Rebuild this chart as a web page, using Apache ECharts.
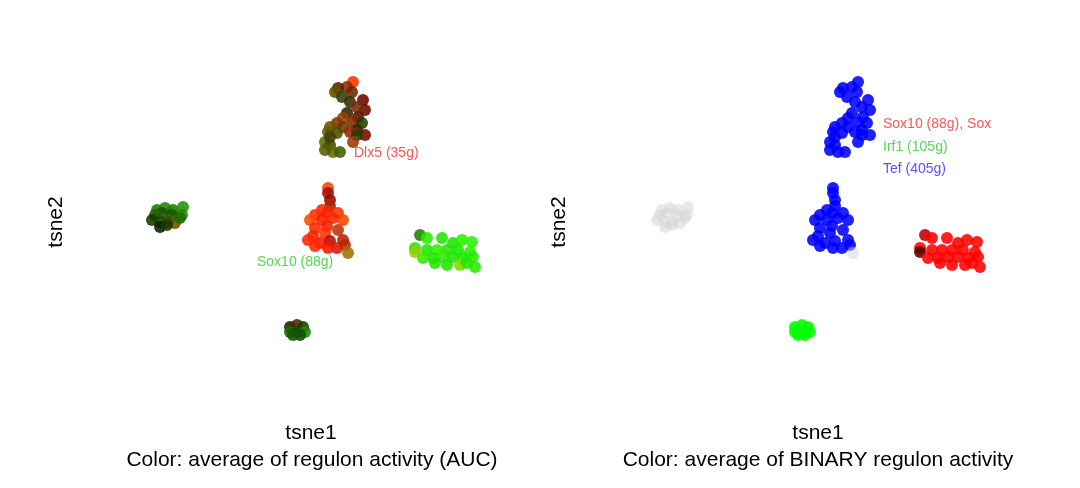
<!DOCTYPE html>
<html>
<head>
<meta charset="utf-8">
<script src="https://cdn.jsdelivr.net/npm/echarts@6/dist/echarts.min.js"></script>
<style>html,body{margin:0;padding:0;background:#fff}#c{width:1080px;height:488px}</style>
</head>
<body>
<div id="c"></div>
<script>
// t-SNE coordinates of the cells (shared by both panels)
const tsne1 = [
  // cluster A (top)
  10.5, 9, 6.75, 6, 10.25, 7.75, 9.75, 13, 13.5, 11.5, 9, 11.75, 8, 6.5, 10.5, 12.75, 4.75, 8, 11.5, 4.25, 6.5, 9.75, 13.5, 11.5, 10.5, 3.5, 4.75, 5.5, 3.5, 7.25, 4.75,
  // cluster B (centre)
  4.25, 4.25, 4.75, 4.75, 2.75, 1, 4, 6.75, -0.25, 2.75, 5.5, 8, 1, 4, 6.75, 0.5, 3.5, -0.75, 2.25, 4.75, 6.5, 8.5, 4.25, 1, 9.25, 8,
  // cluster C (right)
  27.25, 29, 26, 26, 32.75, 35.5, 37.75, 40.25, 29, 31.5, 34, 36.75, 39.75, 30.5, 33, 35.5, 38, 40.5, 31, 34, 37.25, 41, 28, 39,
  // cluster D (left)
  -38.5, -36.5, -34.5, -32, -32.25, -34.75, -37.25, -39, -39.75, -37.75, -35.75, -34, -37.75, -36, -32.75,
  // cluster E (bottom)
  -5.25, -3.5, -2, -5.25, -3.5, -1.5, -2.75, -4.5
];
const tsne2 = [
  32, 30.75, 30.5, 29.5, 29.5, 28.25, 27, 27.5, 25, 25.75, 24.25, 23.25, 23, 21.75, 22, 21.75, 20.75, 20.75, 20, 19.5, 19.25, 19.5, 18.75, 18.75, 17, 17, 16.25, 14.5, 15, 14.5, 18.25,
  5.5, 4.25, 2.5, 1, 0, -1.25, -0.75, -0.75, -2.5, -2.5, -2, -2.5, -4.5, -4, -5, -6.5, -5.75, -7.5, -8.25, -7.75, -9.5, -8.75, -9.5, -9, -10.75, -7.5,
  -6.25, -7, -9.5, -10.5, -7, -8.25, -7.5, -8, -10, -10, -10, -10, -10.5, -12, -11.75, -11.75, -12, -11.75, -13.25, -13.75, -13.75, -14.25, -12, -13.25,
  0, 0.5, 0, 0.75, -1.25, -1.25, -0.75, -1.25, -2.5, -3, -3, -3.25, -4.25, -3.75, -2,
  -29.25, -28.75, -29.25, -30.5, -30.5, -30.5, -31.25, -31.25
];
// AUC regulon activity (scaled 0..1): Dlx5 -> red channel, Sox10 -> green channel
const aucDlx5 = [
  1.0, .5, .35, .38, .45, .2, .2, .42, .42, .45, .22, .35, .6, .5, .5, .14, .45, .45, .22, .38, .32, .58, .45, .14, .6, .38, .26, .4, .32, .26, .26,
  1, .63, .6, .69, 1, 1, 1, 1, 1, 1, 1, 1, 1, 1, .75, 1, 1, 1, 1, .69, .88, .69, 1, 1, .63, .75,
  .12, .15, .15, .6, .12, .1, .15, .15, .12, .2, .12, .1, .15, .12, .2, .12, .1, .15, .12, .12, .5, .15, .2, .12,
  .12, .12, .12, .12, .12, .1, .1, .12, .08, .1, .15, .42, .04, .1, .12,
  .16, .29, .1, .1, .1, .1, .06, .06
];
const aucSox10 = [
  .2, .18, .12, .3, .14, .24, .18, .03, .03, .18, .12, .08, .25, .22, .16, .24, .3, .22, .12, .36, .3, .16, .04, .24, .22, .42, .3, .42, .36, .36, .24,
  .26, .08, .04, .14, .15, .18, .12, .2, .28, .1, .15, .26, .15, .12, .2, .12, .18, .15, .08, .04, .08, .2, .08, .15, .45, .12,
  .5, .92, .9, .8, .9, .9, .95, .95, .9, .95, .9, .9, .95, .9, .92, .9, .9, .92, .9, .9, .85, .92, .92, .9,
  .46, .52, .48, .58, .52, .33, .33, .4, .22, .28, .34, .3, .12, .22, .42,
  .1, .16, .23, .42, .29, .54, .31, .35
];
// Binary regulon activity: Sox10 -> red, Irf1 -> green, Tef -> blue (none -> grey)
const binSox10 = [
  0,0,0,0,0,0,0,0,0,0,0,0,0,0,0,0,0,0,0,0,0,0,0,0,0,0,0,0,0,0,0,
  0,0,0,0,0,0,0,0,0,0,0,0,0,0,0,0,0,0,0,0,0,0,0,0,0,0,
  .75,1,1,.35,1,1,1,1,1,1,1,1,1,1,1,1,1,1,1,1,1,1,1,1,
  0,0,0,0,0,0,0,0,0,0,0,0,0,0,0,
  0,0,0,0,0,0,0,0
];
const binIrf1 = [
  0,0,0,0,0,0,0,0,0,0,0,0,0,0,0,0,0,0,0,0,0,0,0,0,0,0,0,0,0,0,0,
  0,0,0,0,0,0,0,0,0,0,0,0,0,0,0,0,0,0,0,0,0,0,0,0,0,0,
  0,0,0,0,0,0,0,0,0,0,0,0,0,0,0,0,0,0,0,0,0,0,0,0,
  0,0,0,0,0,0,0,0,0,0,0,0,0,0,0,
  1,1,1,1,1,1,1,1
];
const binTef = [
  1,1,1,1,1,1,1,1,1,1,1,1,1,1,1,1,1,1,1,1,1,1,1,1,1,1,1,1,1,1,1,
  1,1,1,1,1,1,1,1,1,1,1,1,1,1,1,1,1,1,1,1,1,1,1,1,0,1,
  0,0,0,0,0,0,0,0,0,0,0,0,0,0,0,0,0,0,0,0,0,0,0,0,
  0,0,0,0,0,0,0,0,0,0,0,0,0,0,0,
  0,0,0,0,0,0,0,0
];
// Regulon text labels placed in tsne space
const leftLabels = [
  [10.75, 14.25, 'Dlx5 (35g)', 'red'],
  [-13.5, -13, 'Sox10 (88g)', 'green']
];
const rightLabels = [
  [16.75, 21.5, 'Sox10 (88g), Sox9', 'red'],
  [16.75, 15.75, 'Irf1 (105g)', 'green'],
  [16.75, 10.25, 'Tef (405g)', 'blue']
];
const axisTitleX = 'tsne1', axisTitleY = 'tsne2';
const subtitles = ['Color: average of regulon activity (AUC)', 'Color: average of BINARY regulon activity'];

const labelColors = { red: '#ff2a2a', green: '#2ccc2c', blue: '#2a2aff' };
const ch = v => Math.round(Math.max(0, Math.min(1, v)) * 255);

const aucData = tsne1.map((x, i) => ({
  value: [x, tsne2[i]],
  itemStyle: { color: `rgb(${ch(aucDlx5[i])},${ch(aucSox10[i])},0)`, opacity: 0.88 }
}));
const binData = tsne1.map((x, i) => {
  const none = binSox10[i] + binIrf1[i] + binTef[i] === 0;
  return {
    value: [x, tsne2[i]],
    itemStyle: none
      ? { color: '#d3d3d3', opacity: 0.5 }
      : { color: `rgb(${ch(binSox10[i])},${ch(binIrf1[i])},${ch(binTef[i])})`, opacity: 0.88 }
  };
});

const FONT = 'Liberation Sans, Arial, sans-serif';
const mkAxis = (idx, min, max) => ({
  gridIndex: idx, type: 'value', min, max, show: false
});
const labelSeries = (idx, arr) => ({
  type: 'scatter', xAxisIndex: idx, yAxisIndex: idx, symbolSize: 0, silent: true, z: 5,
  data: arr.map(d => ({
    value: [d[0], d[1]],
    label: {
      show: true, formatter: d[2], position: [0, 0], align: 'left', verticalAlign: 'middle',
      color: labelColors[d[3]], fontSize: 14, fontFamily: FONT,
      width: 112, overflow: 'truncate', ellipsis: ''
    }
  }))
});

const chart = echarts.init(document.getElementById('c'), null, { renderer: 'canvas' });
chart.setOption({
  backgroundColor: '#ffffff',
  animation: false,
  grid: [
    { left: 131, top: 60, width: 360, height: 300 },
    { left: 636, top: 60, width: 360, height: 300 }
  ],
  xAxis: [mkAxis(0, -45, 45), mkAxis(1, -45, 45)],
  yAxis: [mkAxis(0, -37.5, 37.5), mkAxis(1, -37.5, 37.5)],
  series: [
    { type: 'scatter', xAxisIndex: 0, yAxisIndex: 0, symbolSize: 12, data: aucData },
    { type: 'scatter', xAxisIndex: 1, yAxisIndex: 1, symbolSize: 12, data: binData },
    labelSeries(0, leftLabels),
    labelSeries(1, rightLabels)
  ],
  graphic: [
    { type: 'text', x: 56, y: 222, rotation: Math.PI / 2, style: { text: axisTitleY, font: '21px ' + FONT, fill: '#000', align: 'center', verticalAlign: 'middle' } },
    { type: 'text', x: 559, y: 222, rotation: Math.PI / 2, style: { text: axisTitleY, font: '21px ' + FONT, fill: '#000', align: 'center', verticalAlign: 'middle' } },
    { type: 'text', x: 311, y: 433, style: { text: axisTitleX, font: '21px ' + FONT, fill: '#000', align: 'center', verticalAlign: 'middle' } },
    { type: 'text', x: 818, y: 433, style: { text: axisTitleX, font: '21px ' + FONT, fill: '#000', align: 'center', verticalAlign: 'middle' } },
    { type: 'text', x: 312, y: 460, style: { text: subtitles[0], font: '21px ' + FONT, fill: '#000', align: 'center', verticalAlign: 'middle' } },
    { type: 'text', x: 818, y: 460, style: { text: subtitles[1], font: '21px ' + FONT, fill: '#000', align: 'center', verticalAlign: 'middle' } }
  ]
});
</script>
</body>
</html>
